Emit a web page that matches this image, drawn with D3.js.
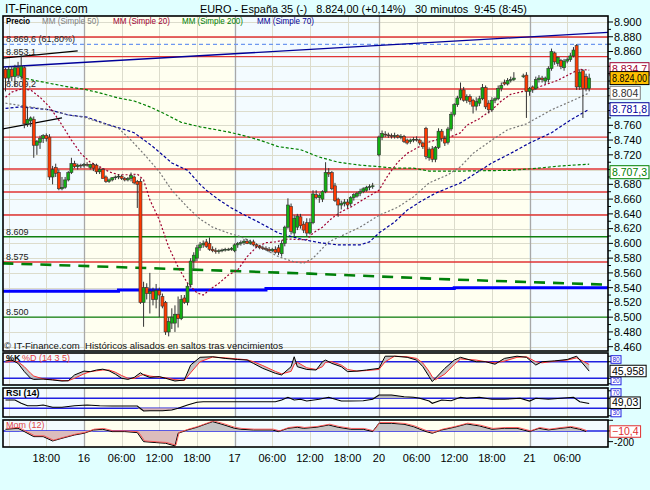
<!DOCTYPE html>
<html><head><meta charset="utf-8">
<script src="https://cdn.jsdelivr.net/npm/d3@7/dist/d3.min.js"></script>
<style>
html,body{margin:0;padding:0;background:#e0ffff;}
svg{display:block;font-family:"Liberation Sans",Arial,sans-serif;}
text{white-space:pre;}
</style></head><body>
<svg id="chart" width="650" height="490"></svg>
<script>
// ---------- DATA ----------
// trading calendar: day label -> trading hour offset of its 00:00 (15th 12:00 = 0)
const sessions = [["15",-12],["16",12],["17",36],["20",59],["21",83]];
const title = "EURO - España 35 (-)   8.824,00 (+0,14%)   30 minutos  9:45 (8:45)";
const legendItems = [["Precio","#000",true],["MM (Simple 50)","#808080",false],["MM (Simple 20)","#a00030",false],["MM (Simple 200)","#008000",false],["MM (Simple 70)","#000099",false]];
const priceTicks = d3.range(8460, 8901, 20);
const timeLabels = [["15 18:00","18:00"],["16 00:00","16"],["16 06:00","06:00"],["16 12:00","12:00"],["16 18:00","18:00"],["17 00:00","17"],["17 06:00","06:00"],["17 12:00","12:00"],["17 18:00","18:00"],["20 00:00","20"],["20 06:00","06:00"],["20 12:00","12:00"],["20 18:00","18:00"],["21 00:00","21"],["21 06:00","06:00"]];
const gridTimes = ["15 12:00","15 18:00","16 06:00","16 12:00","16 18:00","17 06:00","17 12:00","17 18:00","20 06:00","20 12:00","20 18:00","21 06:00"];
const dayLines = ["16 00:00","17 00:00","20 00:00","21 00:00"];

// candles: time, open, high, low, close
const candles = [
["15 11:30",8836,8838,8806,8824],["15 12:00",8824,8840,8818,8836],["15 12:30",8836,8840,8820,8826],["15 13:00",8826,8842,8812,8838],
["15 13:30",8838,8846,8824,8828],["15 14:00",8826,8855,8822,8840],["15 14:30",8838,8840,8756,8762],["15 15:00",8762,8785,8758,8768],
["15 15:30",8766,8772,8758,8770],["15 16:00",8768,8772,8716,8733],["15 16:30",8733,8740,8720,8738],["15 17:00",8737,8746,8728,8742],
["15 17:30",8742,8748,8736,8746],["15 18:00",8746,8749,8738,8742],["15 18:30",8744,8748,8686,8690],["15 19:00",8690,8705,8680,8700],
["15 19:30",8703,8708,8690,8695],["15 20:00",8696,8700,8672,8674],["15 20:30",8674,8690,8672,8676],["15 21:00",8676,8690,8674,8686],
["15 21:30",8686,8698,8684,8696],["15 22:00",8696,8716,8694,8708],["15 22:30",8708,8712,8702,8704],["15 23:00",8704,8708,8700,8706],
["15 23:30",8706,8708,8702,8705],
["16 00:00",8706,8709,8703,8707],["16 00:30",8707,8710,8704,8706],["16 01:00",8703,8708,8700,8707],["16 01:30",8707,8709,8698,8702],
["16 02:00",8706,8708,8694,8697],["16 02:30",8697,8703,8694,8700],["16 03:00",8700,8702,8688,8688],["16 03:30",8690,8692,8682,8684],
["16 04:00",8684,8688,8682,8686],["16 04:30",8686,8690,8684,8689],["16 05:00",8689,8692,8686,8690],["16 05:30",8690,8694,8687,8691],
["16 06:00",8691,8693,8686,8688],["16 06:30",8688,8690,8684,8686],["16 07:00",8686,8690,8684,8688],["16 07:30",8688,8696,8684,8692],
["16 08:00",8690,8692,8680,8682],["16 08:30",8684,8686,8648,8680],["16 09:00",8684,8688,8518,8520],["16 09:30",8520,8548,8487,8540],
["16 10:00",8540,8546,8524,8532],["16 10:30",8532,8560,8505,8535],["16 11:00",8535,8540,8516,8524],["16 11:30",8524,8545,8512,8536],
["16 12:00",8536,8540,8500,8530],["16 12:30",8528,8532,8512,8515],["16 13:00",8520,8522,8476,8480],["16 13:30",8480,8500,8474,8494],
["16 14:00",8492,8512,8484,8500],["16 14:30",8492,8516,8480,8504],["16 15:00",8504,8528,8486,8498],["16 15:30",8498,8530,8496,8524],
["16 16:00",8526,8530,8518,8520],["16 16:30",8520,8546,8516,8542],["16 17:00",8544,8580,8540,8576],["16 17:30",8576,8588,8566,8584],
["16 18:00",8580,8598,8576,8594],["16 18:30",8594,8602,8590,8598],["16 19:00",8598,8604,8594,8600],["16 19:30",8602,8606,8594,8596],
["16 20:00",8600,8608,8590,8592],["16 20:30",8592,8596,8588,8590],["16 21:00",8590,8594,8586,8589],["16 21:30",8589,8592,8586,8590],
["16 22:00",8590,8593,8588,8591],["16 22:30",8591,8594,8589,8592],["16 23:00",8592,8594,8590,8592],["16 23:30",8592,8595,8590,8593],
["17 00:00",8590,8600,8588,8598],["17 00:30",8598,8602,8594,8600],["17 01:00",8600,8604,8597,8601],["17 01:30",8601,8606,8598,8603],
["17 02:00",8603,8606,8599,8600],["17 02:30",8600,8605,8598,8602],["17 03:00",8602,8605,8596,8598],["17 03:30",8598,8600,8594,8596],
["17 04:00",8596,8598,8592,8594],["17 04:30",8594,8597,8591,8593],["17 05:00",8593,8596,8590,8592],["17 05:30",8592,8595,8588,8590],
["17 06:00",8590,8594,8588,8592],["17 06:30",8592,8596,8586,8588],["17 07:00",8594,8598,8584,8588],["17 07:30",8586,8604,8582,8600],
["17 08:00",8600,8624,8596,8622],["17 08:30",8622,8661,8620,8652],["17 09:00",8650,8654,8612,8616],["17 09:30",8614,8638,8610,8634],
["17 10:00",8622,8640,8618,8637],["17 10:30",8636,8640,8620,8624],["17 11:00",8626,8630,8614,8618],["17 11:30",8628,8634,8610,8614],
["17 12:00",8614,8634,8612,8628],["17 12:30",8628,8672,8626,8667],["17 13:00",8666,8672,8660,8662],["17 13:30",8662,8668,8655,8665],
["17 14:00",8660,8672,8656,8670],["17 14:30",8670,8710,8668,8696],["17 15:00",8696,8702,8690,8694],["17 15:30",8696,8698,8672,8674],
["17 16:00",8678,8682,8656,8658],["17 16:30",8660,8662,8636,8652],["17 17:00",8652,8658,8646,8654],["17 17:30",8654,8660,8650,8656],
["17 18:00",8656,8660,8648,8652],["17 18:30",8654,8664,8650,8662],["17 19:00",8662,8668,8658,8666],["17 19:30",8664,8670,8662,8668],
["17 20:00",8668,8674,8664,8670],["17 20:30",8670,8676,8668,8674],["17 21:00",8672,8678,8670,8676],["17 21:30",8676,8680,8672,8677],
["17 22:00",8677,8682,8674,8678],
["20 00:00",8720,8746,8718,8744],["20 00:30",8744,8753,8740,8749],["20 01:00",8748,8752,8744,8747],["20 01:30",8747,8750,8743,8746],
["20 02:00",8746,8749,8742,8745],["20 02:30",8745,8750,8742,8746],["20 03:00",8746,8748,8742,8744],["20 03:30",8744,8748,8741,8745],
["20 04:00",8745,8747,8736,8738],["20 04:30",8740,8742,8734,8736],["20 05:00",8738,8742,8735,8740],["20 05:30",8740,8744,8737,8741],
["20 06:00",8741,8745,8738,8740],["20 06:30",8740,8742,8733,8736],["20 07:00",8736,8738,8728,8731],["20 07:30",8756,8758,8714,8718],
["20 08:00",8716,8730,8712,8727],["20 08:30",8728,8732,8710,8714],["20 09:00",8714,8732,8710,8730],["20 09:30",8730,8756,8728,8752],
["20 10:00",8752,8755,8738,8742],["20 10:30",8742,8746,8732,8736],["20 11:00",8737,8758,8734,8755],["20 11:30",8755,8778,8752,8775],
["20 12:00",8775,8790,8772,8788],["20 12:30",8788,8800,8785,8797],["20 13:00",8797,8818,8794,8808],["20 13:30",8808,8812,8792,8794],
["20 14:00",8794,8802,8790,8799],["20 14:30",8799,8802,8788,8792],["20 15:00",8794,8796,8776,8786],["20 15:30",8786,8798,8780,8792],
["20 16:00",8790,8800,8786,8796],["20 16:30",8796,8816,8794,8811],["20 17:00",8811,8814,8782,8785],["20 17:30",8790,8794,8776,8781],
["20 18:00",8781,8798,8778,8794],["20 18:30",8794,8798,8790,8796],["20 19:00",8796,8814,8794,8810],["20 19:30",8810,8818,8806,8814],
["20 20:00",8818,8822,8814,8816],["20 20:30",8816,8824,8814,8821],["20 21:00",8821,8826,8818,8822],["20 21:30",8822,8832,8820,8824],
["20 23:00",8826,8830,8824,8827],["20 23:30",8828,8832,8770,8806],
["21 00:00",8806,8812,8800,8810],["21 00:30",8812,8814,8804,8808],["21 01:00",8810,8826,8808,8822],["21 01:30",8822,8828,8818,8824],
["21 02:00",8824,8827,8818,8822],["21 02:30",8820,8826,8816,8824],["21 03:00",8822,8840,8818,8837],["21 03:30",8837,8864,8834,8860],
["21 04:00",8858,8860,8842,8846],["21 04:30",8844,8853,8840,8852],["21 05:00",8848,8850,8836,8840],["21 05:30",8838,8850,8834,8847],
["21 06:00",8847,8852,8844,8849],["21 06:30",8849,8858,8846,8854],["21 07:00",8854,8866,8852,8862],["21 07:30",8868,8870,8808,8812],
["21 08:00",8812,8836,8808,8832],["21 08:30",8834,8836,8770,8810],["21 09:00",8826,8830,8806,8810],["21 09:30",8810,8830,8806,8824]
];

const mm20 = [["15 11:30",8798],["15 12:30",8805],["15 14:00",8809],["15 15:30",8808],["15 17:00",8798],["15 18:30",8785],["15 20:00",8767],["15 22:00",8740],["15 23:30",8722],
["16 01:00",8710],["16 02:30",8704],["16 04:00",8697],["16 05:30",8693],["16 07:30",8693],["16 08:30",8694],["16 09:30",8686],["16 10:30",8659],["16 12:00",8632],["16 13:30",8595],["16 15:00",8568],["16 16:30",8546],["16 18:00",8533],["16 19:00",8530],["16 20:00",8537],["16 21:30",8546],["16 23:00",8557],
["17 00:30",8564],["17 02:00",8582],["17 03:30",8595],["17 05:00",8601],["17 06:30",8602],["17 08:30",8606],["17 10:30",8605],["17 11:30",8605],["17 12:30",8614],["17 14:00",8622],["17 15:30",8634],["17 17:00",8643],["17 18:30",8649],["17 21:00",8662],
["20 00:00",8672],["20 01:30",8693],["20 03:00",8710],["20 04:30",8722],["20 06:00",8729],["20 07:30",8736],["20 09:00",8740],["20 11:00",8743],["20 13:00",8750],["20 14:00",8760],["20 16:00",8769],["20 18:00",8781],["20 19:30",8793],["20 21:00",8802],["20 22:30",8805],
["21 00:00",8808],["21 01:30",8812],["21 04:30",8821],["21 07:00",8832],["21 08:00",8836],["21 09:30",8834.7]];
const mm50 = [["15 11:30",8790],["15 13:00",8788],["15 18:30",8781],["15 21:30",8774],["16 00:00",8771],["16 02:30",8764],["16 05:30",8756],["16 07:30",8740],["16 10:00",8717],["16 12:00",8697],["16 14:00",8672],["16 16:30",8649],["16 18:30",8633],["16 20:30",8622],["16 23:00",8614],
["17 01:00",8609],["17 03:00",8601],["17 05:00",8591],["17 07:00",8582],["17 09:30",8575],["17 11:00",8573],["17 12:30",8580],["17 15:00",8602],["17 18:00",8614],["17 20:00",8622],
["20 00:00",8638],["20 03:00",8649],["20 05:30",8663],["20 08:00",8682],["20 11:00",8693],["20 13:00",8704],["20 15:00",8722],["20 18:00",8740],["20 20:30",8754],["20 23:30",8762],
["21 03:30",8781],["21 07:00",8794],["21 09:30",8804]];
const mm70 = [["15 11:30",8783],["15 14:00",8785],["15 18:30",8781],["15 21:30",8774],["16 00:30",8771],["16 03:30",8762],["16 08:00",8750],["16 11:00",8731],["16 14:00",8709],["16 16:30",8699],["16 18:30",8680],["16 19:30",8672],["16 21:30",8659],["16 23:30",8648],
["17 01:00",8641],["17 04:00",8628],["17 07:00",8614],["17 10:30",8606],["17 13:30",8601],["17 16:30",8598],["17 20:00",8598],["17 21:30",8602],
["20 00:00",8614],["20 02:30",8629],["20 04:30",8645],["20 06:30",8656],["20 09:00",8668],["20 13:00",8682],["20 14:30",8690],["20 18:00",8709],["20 21:00",8722],
["21 00:00",8736],["21 03:30",8750],["21 06:30",8767],["21 09:30",8781.8]];
const mm200 = [["15 14:00",8825],["15 16:00",8821],["15 18:30",8817],["15 21:30",8812],["16 00:00",8809],["16 02:30",8804],["16 05:30",8797],["16 08:00",8793],["16 10:30",8785],["16 13:00",8775],["16 15:30",8764],["16 18:30",8758],["16 23:00",8751],
["17 01:00",8747],["17 04:00",8740],["17 07:00",8731],["17 10:30",8727],["17 13:30",8717],["17 16:30",8710],["17 20:00",8706],
["20 00:00",8704],["20 02:30",8702],["20 05:30",8702],["20 08:00",8698],["20 13:00",8698],["20 21:00",8699],["21 01:30",8702],["21 05:00",8705],["21 09:30",8707.3]];
const longMA = [["15 11:00",8573],["16 12:00",8566],["17 12:00",8559],["20 12:00",8551],["21 12:30",8544]];
const blueSupport = [["15 11:00",8535],["16 05:30",8537],["17 05:00",8539],["20 12:00",8540],["21 12:30",8540]];
const trendNavy = [["15 11:00",8839],["21 12:30",8886]];
const trendBlack1 = [["15 11:00",8851],["15 23:00",8861]];
const trendBlack2 = [["15 11:00",8755],["15 20:30",8770]];
const redLevels = [8879.7, 8853.1, 8809.2, 8744, 8700.8, 8669.6, 8638.5, 8574.8];
const greenLevels = [8609, 8500];
const fiboLevels = [8869.6];
const levelLabels = [["8.869,6 (61,80%)",8869.6],["8.853,1",8853.1],["8.809,2",8809.2],["8.609",8609],["8.575",8575],["8.500",8500]];
const lastPrice = 8824;

const stoK = [["15 11:30",83],["15 12:30",86],["15 13:30",74],["15 14:30",44],["15 15:30",20],["15 16:00",16],["15 17:30",17],["15 19:00",14],["15 20:30",10],["15 21:30",11],["15 22:30",32],
["16 00:00",46],["16 01:00",44],["16 02:00",50],["16 03:00",53],["16 04:00",47],["16 05:00",35],["16 06:00",20],["16 07:00",16],["16 08:00",23],["16 09:00",40],["16 09:30",32],["16 10:30",23],["16 12:00",26],["16 13:00",20],["16 14:30",10],["16 16:00",14],["16 17:00",68],["16 18:30",96],["16 20:30",98],["16 22:30",92],
["17 00:30",88],["17 02:00",86],["17 03:00",74],["17 04:30",56],["17 06:30",38],["17 07:30",32],["17 09:00",62],["17 09:30",98],["17 10:00",62],["17 11:30",52],["17 13:00",50],["17 14:00",80],["17 14:30",86],["17 15:30",74],["17 17:00",62],["17 18:00",44],["17 19:30",46],["17 21:00",50],
["20 00:00",56],["20 01:00",100],["20 02:30",100],["20 04:30",96],["20 06:00",86],["20 07:00",62],["20 08:00",26],["20 08:30",8],["20 09:00",20],["20 10:30",56],["20 12:00",86],["20 13:00",96],["20 15:30",80],["20 17:00",80],["20 18:30",71],["20 20:00",92],["20 22:00",100],["20 23:30",96],
["21 01:00",68],["21 02:00",80],["21 04:00",83],["21 06:00",88],["21 07:30",100],["21 09:30",45.958]];
const stoD = [["15 11:30",78],["15 12:30",82],["15 13:30",80],["15 14:30",62],["15 15:30",38],["15 16:00",28],["15 17:30",18],["15 19:00",15],["15 20:30",12],["15 21:30",11],["15 22:30",20],
["16 00:00",36],["16 01:00",44],["16 02:00",47],["16 03:00",50],["16 04:00",50],["16 05:00",42],["16 06:00",30],["16 07:00",20],["16 08:00",19],["16 09:00",30],["16 09:30",34],["16 10:30",28],["16 12:00",24],["16 13:00",22],["16 14:30",15],["16 16:00",12],["16 17:00",40],["16 18:30",80],["16 20:30",97],["16 22:30",94],
["17 00:30",90],["17 02:00",87],["17 03:00",80],["17 04:30",66],["17 06:30",45],["17 07:30",36],["17 09:00",45],["17 09:30",70],["17 10:00",78],["17 11:30",58],["17 13:00",52],["17 14:00",62],["17 14:30",78],["17 15:30",80],["17 17:00",68],["17 18:00",52],["17 19:30",46],["17 21:00",48],
["20 00:00",52],["20 01:00",80],["20 02:30",100],["20 04:30",98],["20 06:00",92],["20 07:00",75],["20 08:00",45],["20 08:30",25],["20 09:00",15],["20 10:30",35],["20 12:00",70],["20 13:00",90],["20 15:30",86],["20 17:00",80],["20 18:30",76],["20 20:00",82],["20 22:00",96],["20 23:30",98],
["21 01:00",80],["21 02:00",76],["21 04:00",82],["21 06:00",86],["21 07:30",94],["21 09:30",70]];
const stoLevels = [80, 20];

const rsi = [["15 11:30",63],["15 13:00",63],["15 14:00",50],["15 15:00",40],["15 16:30",40],["15 17:30",43],["15 19:00",34],["15 20:30",34],["15 22:30",40],
["16 00:30",43],["16 02:30",40],["16 04:30",39],["16 06:30",39],["16 08:30",39],["16 09:30",19],["16 10:30",20],["16 12:30",20],["16 14:00",23],["16 15:00",30],["16 16:30",43],["16 18:00",54],["16 19:00",56],["16 22:00",56],
["17 00:30",56],["17 03:00",56],["17 06:30",56],["17 07:30",63],["17 08:30",74],["17 09:30",63],["17 10:30",66],["17 11:30",59],["17 13:30",66],["17 15:00",74],["17 15:30",70],["17 17:00",59],["17 18:30",59],["17 20:30",60],["17 22:00",66],
["20 00:00",83],["20 02:00",83],["20 04:00",76],["20 05:30",74],["20 06:30",70],["20 08:00",59],["20 08:30",50],["20 10:00",63],["20 11:30",60],["20 13:00",74],["20 14:00",70],["20 16:00",74],["20 18:00",66],["20 20:00",66],["20 22:30",70],
["21 00:00",59],["21 01:00",70],["21 03:00",66],["21 05:00",70],["21 07:00",74],["21 08:00",56],["21 09:30",49.03]];
const rsiLevels = [70, 30];

const mom = [["15 11:30",32],["15 13:30",50],["15 14:30",-12],["15 16:00",-106],["15 17:30",-106],["15 19:00",-187],["15 20:30",-137],["15 22:30",-75],
["16 00:00",-43],["16 01:30",19],["16 03:00",32],["16 04:30",-12],["16 06:30",-12],["16 08:30",-31],["16 09:30",-200],["16 11:30",-218],["16 13:00",-230],["16 14:30",-280],["16 15:00",-43],["16 16:30",19],["16 18:00",69],["16 19:00",112],["16 20:30",174],["16 22:00",125],
["17 00:00",50],["17 01:00",32],["17 03:00",19],["17 06:00",19],["17 07:00",-12],["17 08:30",50],["17 10:00",69],["17 11:00",50],["17 13:00",69],["17 15:00",112],["17 16:30",69],["17 18:30",32],["17 20:30",32],["17 22:00",-12],
["20 00:00",143],["20 02:00",143],["20 04:00",125],["20 05:30",81],["20 07:30",-12],["20 08:30",-43],["20 10:00",19],["20 12:00",69],["20 14:00",131],["20 16:00",94],["20 18:00",32],["20 20:00",50],["20 22:00",50],
["21 00:00",-12],["21 01:30",50],["21 03:00",19],["21 05:00",50],["21 06:30",69],["21 08:00",32],["21 09:00",-10.4]];

// ---------- CHART ----------
const svg = d3.select("#chart");
const X0 = 3, X1 = 608;
const panels = {main:[16,351], sto:[353,385], rsi:[388,417], mom:[420,447]};
const dayMap = new Map(sessions);
const T = s => { const [d,hm] = s.split(" "); const [h,m] = hm.split(":").map(Number); return dayMap.get(d) + h + m/60; };
const x = d3.scaleLinear().domain([-0.9, 95.5]).range([X0, X1]);
const y = d3.scaleLinear().domain([8460, 8900]).range([346.7, 22]);
const ySto = d3.scaleLinear().domain([0,100]).range([383.8, 356.2]);
const yRsi = d3.scaleLinear().domain([0,100]).range([415.8, 390.8]);
const yMom = d3.scaleLinear().domain([-300, 205]).range([447, 420]);
const loc = d3.formatLocale({decimal:",", thousands:".", grouping:[3], currency:["",""]});
const f0 = loc.format(",.0f"), f1 = loc.format(",.1f"), f2 = loc.format(",.2f"), f3 = loc.format(",.3f");
const last = a => a[a.length-1][1];

const defs = svg.append("defs");
Object.entries(panels).forEach(([k,[t,b]]) => {
  defs.append("clipPath").attr("id","clip-"+k).append("rect").attr("x",X0).attr("y",t).attr("width",X1-X0).attr("height",b-t);
});

// titles
svg.append("text").attr("x",5).attr("y",13).attr("font-size",12).attr("fill","#000").text("IT-Finance.com");
svg.append("text").attr("x",200).attr("y",13).attr("font-size",11.5).attr("fill","#000")
  .attr("textLength",327).attr("lengthAdjust","spacingAndGlyphs").text(title);

function base(key, hGrid){
  const [t,b] = panels[key];
  const g = svg.append("g").attr("clip-path",`url(#clip-${key})`);
  const bands = sessions.map((s,i) => {
    const start = i===0 ? x.domain()[0] : s[1];
    const end = i < sessions.length-1 ? sessions[i+1][1] : x.domain()[1];
    return {start, end, c: i%2===0 ? "#f3fbff" : "#fffff0"};
  });
  g.selectAll("rect.band").data(bands).join("rect").attr("class","band")
    .attr("x",d=>x(d.start)).attr("width",d=>x(d.end)-x(d.start)).attr("y",t).attr("height",b-t).attr("fill",d=>d.c);
  if (hGrid) g.selectAll("line.hg").data(hGrid).join("line").attr("class","hg")
    .attr("x1",X0).attr("x2",X1).attr("y1",d=>Math.round(y(d))+0.5).attr("y2",d=>Math.round(y(d))+0.5).attr("stroke","#dcdccc").attr("stroke-width",1);
  g.selectAll("line.vg").data(gridTimes).join("line").attr("class","vg")
    .attr("x1",d=>Math.round(x(T(d)))+0.5).attr("x2",d=>Math.round(x(T(d)))+0.5).attr("y1",t).attr("y2",b).attr("stroke","#dcdccc");
  g.selectAll("line.dl").data(dayLines).join("line").attr("class","dl")
    .attr("x1",d=>Math.round(x(T(d)))+0.5).attr("x2",d=>Math.round(x(T(d)))+0.5).attr("y1",t).attr("y2",b).attr("stroke","#a8a8a8").attr("stroke-width",1.3);
  return g;
}
function frame(key){
  const [t,b] = panels[key];
  svg.append("rect").attr("x",X0).attr("y",t).attr("width",X1-X0).attr("height",b-t)
    .attr("fill","none").attr("stroke","#000").attr("stroke-width",1.6);
}

// ----- main panel -----
const gm = base("main", priceTicks);
const hline = (vals, color, w, dash) => gm.append("g").selectAll("line").data(vals).join("line")
  .attr("x1",X0).attr("x2",X1).attr("y1",d=>y(d)).attr("y2",d=>y(d))
  .attr("stroke",color).attr("stroke-width",w).attr("stroke-dasharray",dash||null);
hline(redLevels,"#e03434",1.3);
hline(greenLevels,"#108010",1.3);
hline(fiboLevels,"#6e98f0",1.3,"4,3");

const pline = d3.line().x(d=>x(T(d[0]))).y(d=>y(d[1]));
gm.append("path").datum(blueSupport).attr("d",d3.line().curve(d3.curveStepAfter).x(d=>x(T(d[0]))).y(d=>y(d[1])))
  .attr("fill","none").attr("stroke","#0000ff").attr("stroke-width",3);
gm.append("path").datum(longMA).attr("d",pline).attr("fill","none").attr("stroke","#00800a").attr("stroke-width",2.6).attr("stroke-dasharray","11,8");
gm.append("path").datum(trendNavy).attr("d",pline).attr("fill","none").attr("stroke","#000099").attr("stroke-width",1.3);
gm.append("path").datum(trendBlack1).attr("d",pline).attr("fill","none").attr("stroke","#000").attr("stroke-width",1.2);
gm.append("path").datum(trendBlack2).attr("d",pline).attr("fill","none").attr("stroke","#000").attr("stroke-width",1.2);

gm.selectAll("text.lvl").data(levelLabels).join("text").attr("class","lvl")
  .attr("x",6).attr("y",d=>y(d[1])-2).attr("font-size",9).attr("fill","#222").text(d=>d[0]);

const ma = (data, color, dash) => gm.append("path").datum(data).attr("d",pline).attr("fill","none")
  .attr("stroke",color).attr("stroke-width",1.2).attr("stroke-dasharray",dash);
ma(mm200,"#008000","3,2");
ma(mm70,"#000099","3,2");
ma(mm50,"#777777","2,2");
ma(mm20,"#a00030","2,2");

// candles
const cg = gm.append("g");
cg.selectAll("line").data(candles).join("line")
  .attr("x1",d=>x(T(d[0]))).attr("x2",d=>x(T(d[0]))).attr("y1",d=>y(d[2])).attr("y2",d=>y(d[3]))
  .attr("stroke","#333").attr("stroke-width",1);
cg.selectAll("rect").data(candles).join("rect")
  .attr("x",d=>x(T(d[0]))-1.5).attr("width",3)
  .attr("y",d=>y(Math.max(d[1],d[4]))).attr("height",d=>Math.max(0.8, Math.abs(y(d[1])-y(d[4]))))
  .attr("fill",d=>d[4]>=d[1] ? "#12b012" : "#ff3a00").attr("stroke","#333").attr("stroke-width",0.6);

gm.append("text").attr("x",4).attr("y",349).attr("font-size",9.5).attr("fill","#111")
  .attr("textLength",279).attr("lengthAdjust","spacingAndGlyphs")
  .text("© IT-Finance.com  Históricos alisados en saltos tras vencimientos");

// legend
const legX = [6,42,113,182,257], legW = [24,57,57,61,57];
svg.selectAll("text.leg").data(legendItems).join("text").attr("class","leg")
  .attr("x",(d,i)=>legX[i]).attr("y",24).attr("font-size",9).attr("fill",d=>d[1])
  .attr("font-weight",d=>d[2]?"bold":"normal").attr("textLength",(d,i)=>legW[i]).attr("lengthAdjust","spacingAndGlyphs").text(d=>d[0]);
frame("main");

// value boxes for the main axis
const boxes = [
  [f1(last(mm20)), y(last(mm20))-1, "#fff", "#a00030", "#a00030"],
  [f2(lastPrice), y(lastPrice), "#ffc000", "#000", "#000"],
  [f0(last(mm50)), y(last(mm50)), "#fff", "#808080", "#333"],
  [f1(last(mm70)), y(last(mm70)), "#fff", "#000099", "#000099"],
  [f1(last(mm200)), y(last(mm200))+8, "#fff", "#008000", "#008000"]
];

// right price axis (labels hidden where a value box sits)
const ra = svg.append("g");
ra.selectAll("line.mt").data(d3.range(8460,8901,10)).join("line").attr("class","mt")
  .attr("x1",X1).attr("x2",d=>d%20===0?X1+5:X1+3).attr("y1",d=>y(d)).attr("y2",d=>y(d)).attr("stroke","#000");
const visibleTicks = priceTicks.filter(v => boxes.every(b => Math.abs(y(v)-b[1]) > 9));
ra.selectAll("text").data(visibleTicks).join("text").attr("x",X1+6).attr("y",d=>y(d)).attr("dy","0.35em")
  .attr("font-size",11).attr("fill","#000").text(d=>f0(d));

function valBox(text, cy, fill, stroke, color, maxW, h){
  h = h || 13;
  const g = svg.append("g");
  const r = g.append("rect");
  const t = g.append("text").attr("x",X1+4).attr("y",cy).attr("dy","0.36em").attr("font-size",10.5).attr("fill",color).text(text);
  let w = t.node().getComputedTextLength();
  if (w > maxW) { t.attr("textLength",maxW).attr("lengthAdjust","spacingAndGlyphs"); w = maxW; }
  r.attr("x",X1+2).attr("y",cy-h/2).attr("width",w+4).attr("height",h).attr("fill",fill).attr("stroke",stroke).attr("stroke-width",1);
}
boxes.forEach(b => valBox(b[0], b[1], b[2], b[3], b[4], 35));

// ----- stochastic -----
const gs = base("sto");
gs.selectAll("line.lv").data(stoLevels).join("line").attr("x1",X0).attr("x2",X1).attr("y1",d=>ySto(d)).attr("y2",d=>ySto(d)).attr("stroke","#2020e0").attr("stroke-width",1.5);
gs.append("path").datum(stoK.map((d,i)=>[d[0],d[1],stoD[i][1]]))
  .attr("d",d3.area().x(d=>x(T(d[0]))).y0(d=>ySto(d[2])).y1(d=>ySto(d[1]))).attr("fill","#bcbcbc").attr("opacity",0.85);
gs.append("path").datum(stoD).attr("d",d3.line().x(d=>x(T(d[0]))).y(d=>ySto(d[1]))).attr("fill","none").attr("stroke","#ff3030").attr("stroke-width",1);
gs.append("path").datum(stoK).attr("d",d3.line().x(d=>x(T(d[0]))).y(d=>ySto(d[1]))).attr("fill","none").attr("stroke","#000").attr("stroke-width",1);
gs.append("text").attr("x",6).attr("y",361).attr("font-size",9).attr("font-weight","bold").attr("fill","#000").text("%K");
gs.append("text").attr("x",22).attr("y",361).attr("font-size",9).attr("fill","#e03c3c").text("%D (14 3 5)");
frame("sto");

// ----- RSI -----
const gr = base("rsi");
gr.selectAll("line.lv").data(rsiLevels).join("line").attr("x1",X0).attr("x2",X1).attr("y1",d=>yRsi(d)).attr("y2",d=>yRsi(d)).attr("stroke","#2020e0").attr("stroke-width",1.5);
gr.append("path").datum(rsi).attr("d",d3.area().x(d=>x(T(d[0]))).y0(yRsi(70)).y1(d=>yRsi(Math.max(70,d[1])))).attr("fill","#b8b8b8");
gr.append("path").datum(rsi).attr("d",d3.area().x(d=>x(T(d[0]))).y0(yRsi(30)).y1(d=>yRsi(Math.min(30,d[1])))).attr("fill","#d8b4b4");
gr.append("path").datum(rsi).attr("d",d3.line().x(d=>x(T(d[0]))).y(d=>yRsi(d[1]))).attr("fill","none").attr("stroke","#000").attr("stroke-width",1.1);
gr.append("text").attr("x",6).attr("y",396).attr("font-size",9).attr("font-weight","bold").attr("fill","#000").text("RSI (14)");
frame("rsi");

// ----- Momentum -----
const gmo = base("mom");
gmo.append("line").attr("x1",X0).attr("x2",X1).attr("y1",yMom(0)).attr("y2",yMom(0)).attr("stroke","#2020e0").attr("stroke-width",1.5);
gmo.append("path").datum(mom).attr("d",d3.area().x(d=>x(T(d[0]))).y0(yMom(0)).y1(d=>yMom(Math.max(0,d[1])))).attr("fill","#c4c4c4");
gmo.append("path").datum(mom).attr("d",d3.area().x(d=>x(T(d[0]))).y0(yMom(0)).y1(d=>yMom(Math.min(0,d[1])))).attr("fill","#dcbcbc");
gmo.append("path").datum(mom).attr("d",d3.line().x(d=>x(T(d[0]))).y(d=>yMom(d[1]))).attr("fill","none").attr("stroke","#000").attr("stroke-width",1);
gmo.append("path").datum(mom).attr("d",d3.line().x(d=>x(T(d[0]))+1).y(d=>yMom(d[1])-0.8)).attr("fill","none").attr("stroke","#ff5050").attr("stroke-width",0.9);
gmo.append("text").attr("x",6).attr("y",428).attr("font-size",9).attr("fill","#e04848").text("Mom (12)");
frame("mom");

// indicator right axes
const ia = svg.append("g");
[[ySto,[100,80,20,0]],[yRsi,[100,70,30,0]],[yMom,[200,0,-200]]].forEach(([sc,vals])=>{
  ia.selectAll(null).data(vals).join("line").attr("x1",X1).attr("x2",X1+5).attr("y1",d=>sc(d)).attr("y2",d=>sc(d)).attr("stroke","#000");
});
// level tags peek out above / below the value box, as in the original
const smallBox = (txt, cy) => {
  ia.append("rect").attr("x",X1+3).attr("y",cy-3.8).attr("width",10).attr("height",7.6).attr("fill","#fff").attr("stroke","#2020e0");
  ia.append("text").attr("x",X1+4.5).attr("y",cy).attr("dy","0.35em").attr("font-size",6.5).attr("fill","#2020e0").text(txt);
};
smallBox(f0(stoLevels[0]), 359.5); smallBox(f0(stoLevels[1]), 381);
smallBox(f0(rsiLevels[0]), 392.5); smallBox(f0(rsiLevels[1]), 413);
ia.append("text").attr("x",X1+6).attr("y",yMom(-200)+1).attr("dy","0.35em").attr("font-size",10).attr("fill","#000").text("-200");
valBox(f3(last(stoK)), 371, "#fff", "#000", "#000", 35, 11.5);
valBox(f2(last(rsi)), 402.7, "#fff", "#000", "#000", 35, 11.5);
valBox(f1(last(mom)), yMom(last(mom)), "#fff", "#e03030", "#e03030", 35, 11.5);

// time axis labels
svg.selectAll("text.tl").data(timeLabels).join("text").attr("class","tl")
  .attr("x",d=>x(T(d[0]))).attr("y",462).attr("text-anchor","middle").attr("font-size",11).attr("fill","#000").text(d=>d[1]);
</script>
</body></html>
